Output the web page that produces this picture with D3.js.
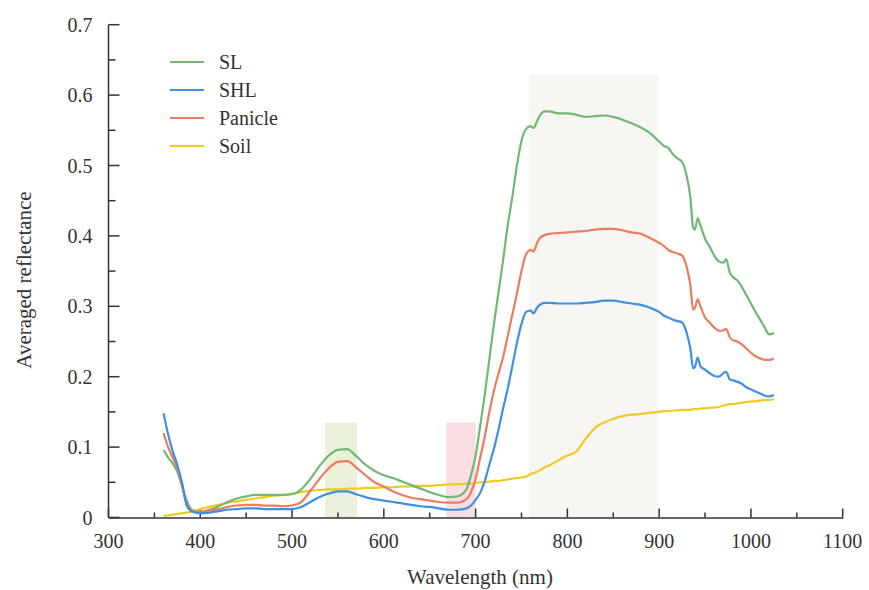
<!DOCTYPE html>
<html>
<head>
<meta charset="utf-8">
<script src="https://cdn.jsdelivr.net/npm/d3@7"></script>
<style>
  body { margin: 0; background: #fff; }
  svg text { font-family: "Liberation Serif", "Times New Roman", serif; fill: #333; }
</style>
</head>
<body>
<div id="chart"></div>
<script>
// wavelength grid (nm)
const wavelengths = [360,365,370,375,380,385,390,395,400,410,420,430,440,450,460,470,480,490,500,510,520,530,540,550,560,570,580,590,600,610,620,630,640,650,660,670,680,690,695,700,705,710,715,720,725,730,735,740,745,750,755,760,763,767,770,775,780,790,800,810,820,830,840,850,860,870,880,890,900,905,910,915,920,925,930,934,937,939,942,945,950,955,960,965,970,973,977,980,985,990,995,1000,1005,1010,1015,1020,1025];

const slValues = [0.096,0.085,0.077,0.065,0.045,0.025,0.012,0.009,0.008,0.011,0.016,0.022,0.027,0.030,0.032,0.032,0.032,0.032,0.033,0.040,0.055,0.073,0.088,0.096,0.097,0.087,0.075,0.066,0.060,0.056,0.051,0.046,0.041,0.036,0.032,0.029,0.030,0.040,0.060,0.088,0.130,0.175,0.225,0.275,0.320,0.366,0.415,0.455,0.500,0.535,0.552,0.556,0.553,0.563,0.571,0.577,0.577,0.574,0.574,0.572,0.569,0.570,0.571,0.569,0.565,0.560,0.554,0.546,0.534,0.528,0.525,0.516,0.510,0.505,0.485,0.455,0.412,0.409,0.425,0.415,0.396,0.385,0.372,0.364,0.362,0.367,0.348,0.342,0.337,0.328,0.316,0.304,0.292,0.281,0.270,0.260,0.262];

const shlValues = [0.148,0.118,0.094,0.075,0.050,0.018,0.009,0.007,0.006,0.007,0.009,0.011,0.012,0.013,0.013,0.012,0.012,0.012,0.012,0.015,0.022,0.029,0.034,0.037,0.037,0.033,0.029,0.026,0.024,0.022,0.020,0.018,0.016,0.015,0.013,0.011,0.011,0.013,0.017,0.025,0.035,0.052,0.075,0.098,0.125,0.155,0.183,0.215,0.248,0.275,0.292,0.294,0.290,0.298,0.302,0.305,0.305,0.304,0.304,0.304,0.305,0.306,0.308,0.308,0.306,0.304,0.302,0.298,0.292,0.287,0.284,0.281,0.279,0.277,0.262,0.240,0.212,0.214,0.227,0.215,0.210,0.205,0.201,0.200,0.205,0.207,0.196,0.195,0.193,0.190,0.185,0.182,0.179,0.176,0.173,0.172,0.174];

const panicleValues = [0.120,0.100,0.085,0.070,0.046,0.020,0.010,0.008,0.008,0.010,0.012,0.015,0.017,0.018,0.018,0.017,0.017,0.016,0.017,0.022,0.038,0.055,0.070,0.079,0.080,0.071,0.060,0.050,0.044,0.037,0.032,0.028,0.026,0.024,0.022,0.021,0.021,0.026,0.036,0.055,0.085,0.115,0.150,0.180,0.205,0.228,0.258,0.288,0.318,0.350,0.374,0.380,0.378,0.390,0.397,0.401,0.403,0.404,0.405,0.406,0.407,0.409,0.410,0.410,0.408,0.405,0.403,0.397,0.390,0.386,0.380,0.377,0.375,0.372,0.356,0.330,0.295,0.298,0.310,0.300,0.284,0.277,0.270,0.265,0.266,0.268,0.256,0.252,0.250,0.246,0.240,0.234,0.229,0.226,0.224,0.224,0.226];

const soilValues = [0.002,0.003,0.004,0.005,0.006,0.007,0.008,0.010,0.012,0.015,0.018,0.021,0.023,0.025,0.027,0.029,0.031,0.032,0.034,0.036,0.038,0.039,0.040,0.040,0.041,0.041,0.042,0.042,0.043,0.043,0.044,0.044,0.045,0.045,0.046,0.047,0.047,0.048,0.048,0.049,0.050,0.050,0.051,0.052,0.052,0.053,0.054,0.055,0.056,0.057,0.058,0.062,0.063,0.065,0.067,0.071,0.074,0.081,0.088,0.094,0.112,0.127,0.135,0.140,0.144,0.146,0.147,0.149,0.150,0.151,0.151,0.152,0.152,0.153,0.153,0.153,0.154,0.154,0.154,0.155,0.155,0.156,0.156,0.157,0.159,0.160,0.161,0.161,0.162,0.163,0.164,0.165,0.165,0.166,0.167,0.167,0.168];

const seriesNames = ["SL", "SHL", "Panicle", "Soil"];
const seriesColors = ["#72b872", "#3f8fe4", "#ec7b60", "#efcb22"];

// highlighted wavelength bands: [from, to, top]
const bands = [
  [536, 571, 0.135, "#e9f1db"],
  [668, 700, 0.135, "#f9dfe2"],
  [758, 899, 0.629, "#f7f6f2"],
];

const xTicks = [300, 400, 500, 600, 700, 800, 900, 1000, 1100];
const yTicks = [0, 0.1, 0.2, 0.3, 0.4, 0.5, 0.6, 0.7];

const W = 869, H = 590;
const svg = d3.select("#chart").append("svg").attr("width", W).attr("height", H);

const x = d3.scaleLinear().domain([300, 1100]).range([108.5, 842.7]);
const y = d3.scaleLinear().domain([0, 0.7]).range([517.5, 24.7]);

// bands
svg.append("g")
  .selectAll("rect")
  .data(bands)
  .join("rect")
  .attr("x", (d) => x(d[0]))
  .attr("width", (d) => x(d[1]) - x(d[0]))
  .attr("y", (d) => y(d[2]))
  .attr("height", (d) => y(0) - y(d[2]))
  .attr("fill", (d) => d[3]);

// axes
const xAxis = svg.append("g").attr("transform", `translate(0,${y(0)})`);
xAxis.call(d3.axisBottom(x).tickValues(d3.range(300, 1101, 50)).tickSize(0).tickFormat(""));
xAxis.selectAll(".tick line").remove();
xAxis.select(".domain").attr("stroke", "#333").attr("stroke-width", 1.5);
xAxis.selectAll(".tickmark")
  .data(d3.range(300, 1101, 50))
  .join("line")
  .attr("x1", (d) => x(d)).attr("x2", (d) => x(d))
  .attr("y1", 0).attr("y2", (d) => (d % 100 === 0 ? -9 : -5))
  .attr("stroke", "#333").attr("stroke-width", 1.5);
xAxis.selectAll(".lbl")
  .data(xTicks)
  .join("text")
  .attr("x", (d) => x(d))
  .attr("y", 30)
  .attr("text-anchor", "middle")
  .style("font-size", "20px")
  .text((d) => d);

const yAxis = svg.append("g").attr("transform", `translate(${x(300)},0)`);
yAxis.append("line")
  .attr("x1", 0).attr("x2", 0)
  .attr("y1", y(0)).attr("y2", y(0.7))
  .attr("stroke", "#333").attr("stroke-width", 1.5);
yAxis.selectAll(".tickmark")
  .data(d3.range(0, 15))
  .join("line")
  .attr("x1", 0).attr("x2", (d) => (d % 2 === 0 ? 11 : 7))
  .attr("y1", (d) => y(d * 0.05)).attr("y2", (d) => y(d * 0.05))
  .attr("stroke", "#333").attr("stroke-width", 1.5);
yAxis.selectAll(".lbl")
  .data(yTicks)
  .join("text")
  .attr("x", -16)
  .attr("y", (d) => y(d))
  .attr("dy", "0.35em")
  .attr("text-anchor", "end")
  .style("font-size", "20px")
  .text((d) => (d === 0 ? "0" : d.toFixed(1)));

svg.append("text")
  .attr("x", 480).attr("y", 584)
  .attr("text-anchor", "middle")
  .style("font-size", "21px")
  .text("Wavelength (nm)");

svg.append("text")
  .attr("transform", "translate(31,280) rotate(-90)")
  .attr("text-anchor", "middle")
  .style("font-size", "21px")
  .text("Averaged reflectance");

// curves
const allValues = [slValues, shlValues, panicleValues, soilValues];
const line = d3.line()
  .x((d) => x(d[0]))
  .y((d) => y(d[1]))
  .curve(d3.curveMonotoneX);

const drawOrder = [3, 0, 2, 1];
svg.append("g")
  .selectAll("path")
  .data(drawOrder)
  .join("path")
  .attr("d", (i) => line(wavelengths.map((w, k) => [w, allValues[i][k]])))
  .attr("fill", "none")
  .attr("stroke", (i) => seriesColors[i])
  .attr("stroke-width", 2.2)
  .attr("stroke-linejoin", "round");

// legend
const legend = svg.append("g");
seriesNames.forEach((name, i) => {
  const ly = 62 + i * 28;
  legend.append("line")
    .attr("x1", 170).attr("x2", 204)
    .attr("y1", ly).attr("y2", ly)
    .attr("stroke", seriesColors[i]).attr("stroke-width", 2.2);
  legend.append("text")
    .attr("x", 219).attr("y", ly)
    .attr("dy", "0.35em")
    .style("font-size", "20px")
    .text(name);
});
</script>
</body>
</html>
